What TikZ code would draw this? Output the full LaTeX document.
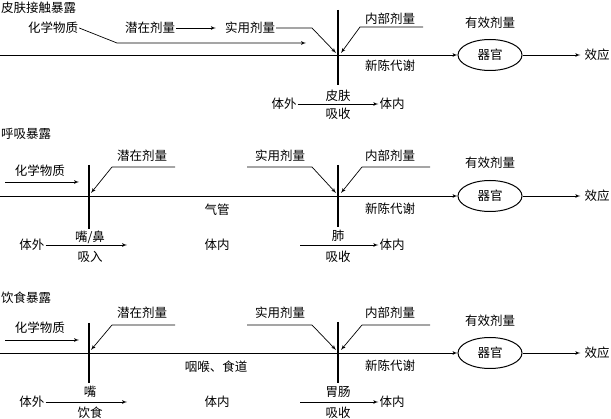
\documentclass[tikz,border=0pt]{standalone}
\usepackage{fontspec}
\newfontfamily\cjk{Noto Sans CJK SC}
\usetikzlibrary{positioning,shapes,arrows}

\begin{document}
\begin{tikzpicture}[x=1pt, y=-1pt, font=\cjk\fontsize{12.5}{15}\selectfont]
	\tikzstyle{txt} = [inner sep=1pt]
	\tikzstyle{line} = [draw, -latex', line width=0.7pt]
	\tikzstyle{bar} = [draw, line width=1.8pt]
	\tikzstyle{organ} = [ellipse, draw, line width=1pt, minimum width=64pt, minimum height=31pt]
	\useasboundingbox (0,0) rectangle (611,419);

	% Skin exposure
	\node [txt, anchor=west] (t1) at (0,8) {皮肤接触暴露};
	\node [txt] (c1) at (53,28) {化学物质};
	\node [txt] (p1) at (150,28) {潜在剂量};
	\node [txt] (u1) at (250,28) {实用剂量};
	\node [txt] (i1) at (390,19) {内部剂量};
	\node [txt] (d1) at (490,23) {有效剂量};
	\node [organ] (o1) at (490,55) {器官};
	\node [txt, inner sep=4pt] (e1) at (597,55) {效应};
	\node [txt] (n1) at (390,66) {新陈代谢};
	\node [txt] (x1) at (284,104) {体外};
	\node [txt] (y1) at (392,104) {体内};
	\node [txt] (s1a) at (338,96) {皮肤};
	\node [txt] (s1b) at (338,114) {吸收};
	\coordinate (l1) at (0,55);
	\coordinate (k1) at (117,43);
	\coordinate (k1e) at (306,43);
	\coordinate (q1) at (312,28);
	\coordinate (j1) at (336,53);
	\coordinate (r1a) at (423,27);
	\coordinate (r1b) at (360,27);
	\coordinate (j1r) at (341,53);
	\coordinate (b1t) at (338,10);
	\coordinate (b1b) at (338,85);

	\path [line] (l1) -- (o1);
	\path [line] (c1.east) -- (k1) -- (k1e);
	\path [line, shorten >=8pt] (p1) -- (u1);
	\path [line] (u1) -- (q1) -- (j1);
	\path [line] (r1a) -- (r1b) -- (j1r);
	\path [bar] (b1t) -- (b1b);
	\path [line] (o1) -- (e1);
	\path [line] (x1) -- (y1);

	% Inhalation exposure
	\node [txt, anchor=west] (t2) at (0,134) {呼吸暴露};
	\node [txt] (c2) at (40,171) {化学物质};
	\node [txt] (p2) at (142,156) {潜在剂量};
	\node [txt] (g2) at (217,210) {气管};
	\node [txt] (x2) at (32,245) {体外};
	\node [txt] (s2a) at (90,237) {嘴/鼻};
	\node [txt] (s2b) at (90,257) {吸入};
	\node [txt] (v2) at (217,245) {体内};
	\node [txt] (u2) at (280,156) {实用剂量};
	\node [txt] (i2) at (390,156) {内部剂量};
	\node [txt] (n2) at (390,209) {新陈代谢};
	\node [txt] (d2) at (490,163) {有效剂量};
	\node [organ] (o2) at (490,196) {器官};
	\node [txt, inner sep=4pt] (e2) at (597,196) {效应};
	\node [txt] (s2c) at (338,236) {肺};
	\node [txt] (s2d) at (338,257) {吸收};
	\node [txt] (y2) at (392,245) {体内};
	\coordinate (l2) at (0,196);
	\coordinate (a2s) at (5,182);
	\coordinate (a2e) at (79,182);
	\coordinate (b2t) at (89,165);
	\coordinate (b2b) at (89,229);
	\coordinate (r2a) at (175,167);
	\coordinate (r2b) at (112,167);
	\coordinate (j2l) at (91,193);
	\coordinate (m2) at (127,245);
	\coordinate (q2a) at (247,167);
	\coordinate (q2b) at (312,167);
	\coordinate (j2) at (336,193);
	\coordinate (r2c) at (430,167);
	\coordinate (r2d) at (362,167);
	\coordinate (j2r) at (341,193);
	\coordinate (b2u) at (338,165);
	\coordinate (b2v) at (338,227);
	\coordinate (w2) at (300,245);

	\path [line] (l2) -- (o2);
	\path [line] (a2s) -- (a2e);
	\path [bar] (b2t) -- (b2b);
	\path [line] (r2a) -- (r2b) -- (j2l);
	\path [line] (x2) -- (m2);
	\path [line] (q2a) -- (q2b) -- (j2);
	\path [line] (r2c) -- (r2d) -- (j2r);
	\path [bar] (b2u) -- (b2v);
	\path [line] (o2) -- (e2);
	\path [line] (w2) -- (y2);

	% Dietary exposure
	\node [txt, anchor=west] (t3) at (0,298) {饮食暴露};
	\node [txt] (c3) at (40,328) {化学物质};
	\node [txt] (p3) at (142,313) {潜在剂量};
	\node [txt] (g3) at (216,367) {咽喉、食道};
	\node [txt] (x3) at (32,402) {体外};
	\node [txt] (s3a) at (90,392) {嘴};
	\node [txt] (s3b) at (90,413) {饮食};
	\node [txt] (v3) at (217,402) {体内};
	\node [txt] (u3) at (280,313) {实用剂量};
	\node [txt] (i3) at (390,313) {内部剂量};
	\node [txt] (n3) at (390,366) {新陈代谢};
	\node [txt] (d3) at (490,321) {有效剂量};
	\node [organ] (o3) at (490,353) {器官};
	\node [txt, inner sep=4pt] (e3) at (597,353) {效应};
	\node [txt] (s3c) at (338,392) {胃肠};
	\node [txt] (s3d) at (338,413) {吸收};
	\node [txt] (y3) at (392,402) {体内};
	\coordinate (l3) at (0,353);
	\coordinate (a3s) at (5,340);
	\coordinate (a3e) at (79,340);
	\coordinate (b3t) at (89,323);
	\coordinate (b3b) at (89,383);
	\coordinate (r3a) at (175,325);
	\coordinate (r3b) at (112,325);
	\coordinate (j3l) at (91,350);
	\coordinate (m3) at (127,402);
	\coordinate (q3a) at (247,325);
	\coordinate (q3b) at (312,325);
	\coordinate (j3) at (336,350);
	\coordinate (r3c) at (430,325);
	\coordinate (r3d) at (362,325);
	\coordinate (j3r) at (341,350);
	\coordinate (b3u) at (338,322);
	\coordinate (b3v) at (338,383);
	\coordinate (w3) at (300,402);

	\path [line] (l3) -- (o3);
	\path [line] (a3s) -- (a3e);
	\path [bar] (b3t) -- (b3b);
	\path [line] (r3a) -- (r3b) -- (j3l);
	\path [line] (x3) -- (m3);
	\path [line] (q3a) -- (q3b) -- (j3);
	\path [line] (r3c) -- (r3d) -- (j3r);
	\path [bar] (b3u) -- (b3v);
	\path [line] (o3) -- (e3);
	\path [line] (w3) -- (y3);
\end{tikzpicture}
\end{document}
